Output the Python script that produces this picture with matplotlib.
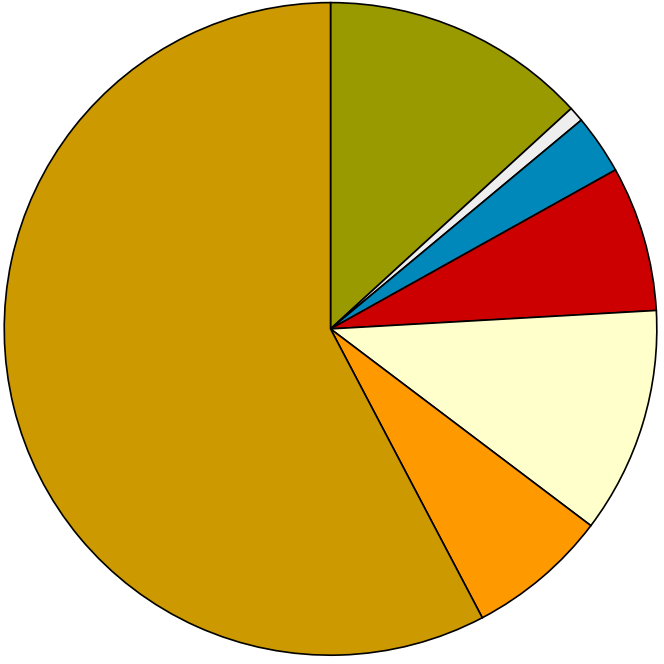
import matplotlib
matplotlib.use("Agg")
import matplotlib.pyplot as plt

# Slice shares (percent), clockwise from 12 o'clock
labels = ["A", "B", "C", "D", "E", "F", "G"]
values = [13.2, 0.75, 2.95, 7.2, 11.2, 7.0, 57.7]
colors = ["#999900", "#eeeeee", "#0088bb", "#cc0000", "#ffffcc", "#ff9900", "#cc9900"]

fig = plt.figure(figsize=(6.64, 6.64), dpi=100)
ax = fig.add_axes([0, 0, 1, 1])
ax.pie(values, colors=colors, startangle=90, counterclock=False,
       wedgeprops=dict(edgecolor="black", linewidth=1.2))
ax.set_aspect("equal")
ax.set_xlim(-1.013, 1.022)
ax.set_ylim(-1.027, 1.008)
ax.axis("off")

fig.savefig("out.png", dpi=100)
